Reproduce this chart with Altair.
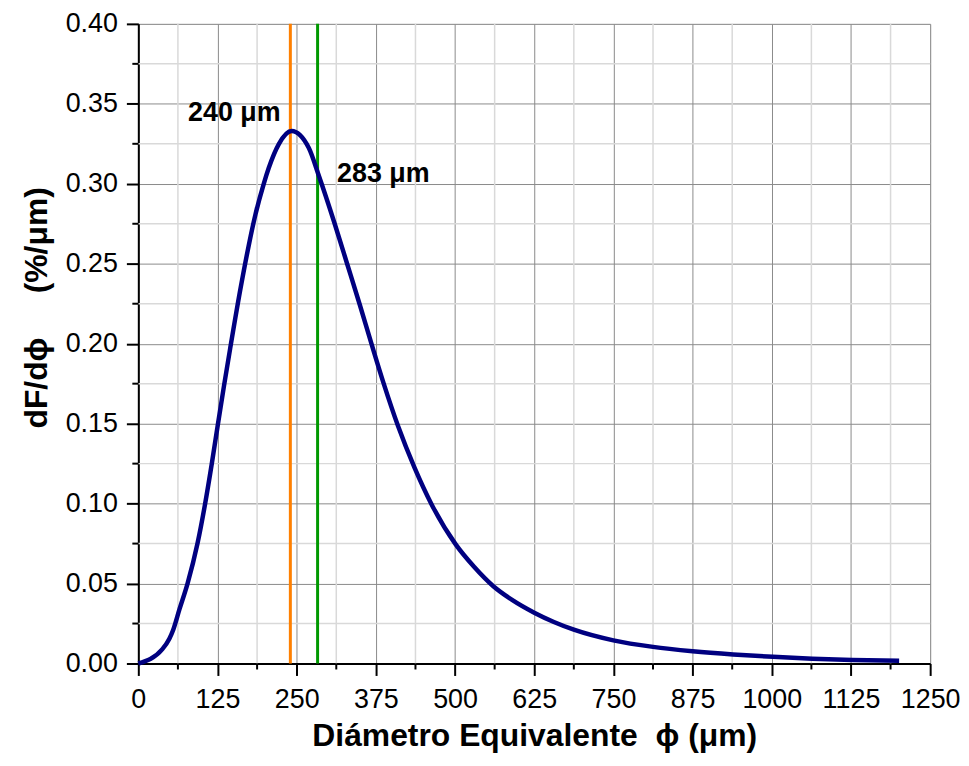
import altair as alt
import pandas as pd

# Curve data
diam = [0, 38, 49, 55, 65, 77.7, 93.4, 105.5, 116, 125, 135.4, 145, 162, 185, 198, 206,
        222, 242, 269, 285, 310, 329.6, 349.5, 368, 387, 410, 436, 463, 501, 530, 560, 590,
        625, 656, 687.5, 750, 812.5, 875, 939, 1002, 1064, 1127, 1201]
dens = [0.0, 0.009, 0.0155, 0.021, 0.034, 0.050, 0.075, 0.100, 0.125, 0.148, 0.174, 0.197,
        0.236, 0.281, 0.300, 0.310, 0.325, 0.333, 0.3225, 0.305, 0.275, 0.250, 0.2245,
        0.200, 0.1755, 0.1485, 0.1225, 0.0995, 0.0745, 0.0605, 0.0485, 0.0398, 0.0318,
        0.0260, 0.0212, 0.0145, 0.0104, 0.0077, 0.0057, 0.0042, 0.0030, 0.0022, 0.0017]

marker_x = [240, 283]
marker_color = ["#FF8000", "#009900"]
ann_text = ["240 μm", "283 μm"]

x_major = [0, 125, 250, 375, 500, 625, 750, 875, 1000, 1125, 1250]
x_minor = [62.5, 187.5, 312.5, 437.5, 562.5, 687.5, 812.5, 937.5, 1062.5, 1187.5]
y_major = [0.0, 0.05, 0.10, 0.15, 0.20, 0.25, 0.30, 0.35, 0.40]
y_minor = [0.025, 0.075, 0.125, 0.175, 0.225, 0.275, 0.325, 0.375]

W, H = 796, 643
FONT = "Liberation Sans"
NB = "\u00a0"

curve = pd.DataFrame({"d": diam, "f": dens})
xmin_df = pd.DataFrame({"x": x_minor})
ymin_df = pd.DataFrame({"y": y_minor})
mark_df = pd.DataFrame({"x": marker_x, "c": marker_color})
ann_df = pd.DataFrame({"t": ann_text, "x": [224.6, 313.8], "y": [0.3394, 0.301],
                       "a": ["right", "left"]})

xs = alt.Scale(domain=[0, 1250], nice=False, zero=False)
ys = alt.Scale(domain=[0, 0.4], nice=False, zero=False)

xaxis = alt.Axis(values=x_major, format="d",
                 title="Diámetro Equivalente" + NB + NB + "ϕ" + NB + "(μm)",
                 grid=True, gridColor="#8a8a8a", gridWidth=1,
                 domainColor="black", domainWidth=2, tickColor="black", tickWidth=2,
                 tickSize=12, labelFontSize=27, labelFont=FONT, labelPadding=11,
                 titleFont=FONT, titleFontSize=32, titleFontWeight="bold",
                 titlePadding=8, labelColor="black", titleColor="black",
                 labelFlush=False, labelOverlap=False)
yaxis = alt.Axis(values=y_major, format=".2f",
                 title="dF/dϕ" + NB + NB + NB + NB + NB + "(%/μm)",
                 grid=True, gridColor="#8a8a8a", gridWidth=1,
                 domainColor="black", domainWidth=2, tickColor="black", tickWidth=2,
                 tickSize=12, labelFontSize=27, labelFont=FONT, labelPadding=9,
                 titleFont=FONT, titleFontSize=32, titleFontWeight="bold",
                 titlePadding=12, titleY=285, labelColor="black", titleColor="black",
                 labelFlush=False, labelOverlap=False)

minor_xgrid = alt.Chart(xmin_df).mark_rule(color="#d9d9d9", strokeWidth=1.5).encode(
    x=alt.X("x:Q", scale=xs, axis=xaxis), y=alt.value(0), y2=alt.value(H))
minor_ygrid = alt.Chart(ymin_df).mark_rule(color="#d9d9d9", strokeWidth=1.5).encode(
    y=alt.Y("y:Q", scale=ys, axis=yaxis), x=alt.value(0), x2=alt.value(W))
minor_xtick = alt.Chart(xmin_df).mark_rule(color="black", strokeWidth=2).encode(
    x=alt.X("x:Q", scale=xs), y=alt.value(H), y2=alt.value(H + 6))
minor_ytick = alt.Chart(ymin_df).mark_rule(color="black", strokeWidth=2).encode(
    y=alt.Y("y:Q", scale=ys), x=alt.value(0), x2=alt.value(-6))

line = alt.Chart(curve).mark_line(color="#000080", strokeWidth=4.5,
                                  interpolate="monotone").encode(
    x=alt.X("d:Q", scale=xs), y=alt.Y("f:Q", scale=ys))

markers = alt.Chart(mark_df).mark_rule(strokeWidth=3).encode(
    x=alt.X("x:Q", scale=xs), y=alt.value(0), y2=alt.value(H),
    color=alt.Color("c:N", scale=None))

ann_r = alt.Chart(ann_df[ann_df.a == "right"]).mark_text(
    align="right", baseline="alphabetic", font=FONT, fontSize=27, fontWeight="bold",
    color="black").encode(x=alt.X("x:Q", scale=xs), y=alt.Y("y:Q", scale=ys), text="t:N")
ann_l = alt.Chart(ann_df[ann_df.a == "left"]).mark_text(
    align="left", baseline="alphabetic", font=FONT, fontSize=27, fontWeight="bold",
    color="black").encode(x=alt.X("x:Q", scale=xs), y=alt.Y("y:Q", scale=ys), text="t:N")

chart = alt.layer(minor_xgrid, minor_ygrid, minor_xtick, minor_ytick, markers, line,
                  ann_r, ann_l).properties(
    width=W, height=H,
    padding={"left": 12, "top": 0, "right": 0, "bottom": 0},
).configure_view(stroke="black", strokeWidth=2).configure(background="white")

chart.save("out.html", embed_options={"renderer": "svg", "actions": False})
